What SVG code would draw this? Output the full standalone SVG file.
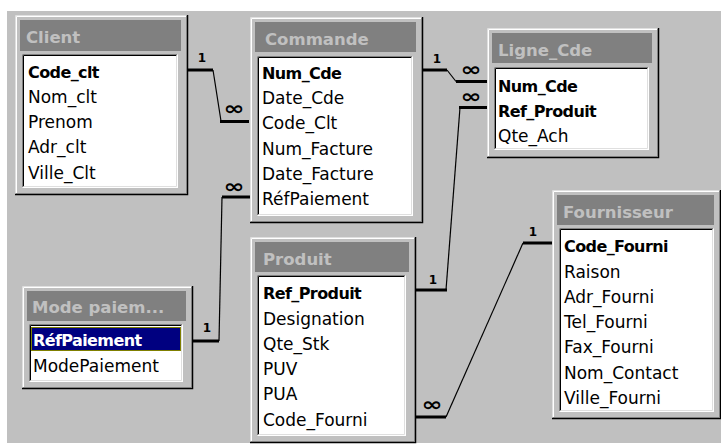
<svg xmlns="http://www.w3.org/2000/svg" width="721" height="445" viewBox="0 0 721 445">
<style>
.win{fill:#c0c0c0}
.lt1{fill:none;stroke:#dfdfdf;stroke-width:1}
.lt2{fill:none;stroke:#ffffff;stroke-width:1}
.dk1{fill:none;stroke:#000000;stroke-width:1.5}
.dk2{fill:none;stroke:#808080;stroke-width:1}
.bar{fill:#808080}
.ttl{font-family:"DejaVu Sans",Verdana,sans-serif;font-weight:bold;font-size:16.5px;fill:#c0c0c0}
.list{fill:#ffffff}
.sk1{fill:none;stroke:#808080;stroke-width:1}
.sk2{fill:none;stroke:#000000;stroke-width:1}
.sk3{fill:none;stroke:#ffffff;stroke-width:1}
.sk4{fill:none;stroke:#dfdfdf;stroke-width:1}
.fld{font-family:"DejaVu Sans",Verdana,sans-serif;font-size:17px;fill:#000}
.key{font-family:"DejaVu Sans",Verdana,sans-serif;font-size:16px;font-weight:bold;fill:#000;letter-spacing:-0.6px}
.thick{fill:none;stroke:#000;stroke-width:3}
.thin{fill:none;stroke:#000;stroke-width:1.2}
.one{font-family:"DejaVu Sans",sans-serif;font-size:12px;font-weight:bold;fill:#000;text-anchor:middle}
.inf{font-family:"DejaVu Sans",sans-serif;font-size:19px;font-weight:bold;fill:#000;text-anchor:middle}
</style>
<rect x="0" y="0" width="721" height="445" fill="#ffffff"/>
<rect x="7" y="11" width="714" height="432" fill="#c0c0c0"/>

<g id="connectors">
  <path class="thick" d="M187,70 H213"/>
  <path class="thin" d="M213,70 L221,121"/>
  <path class="thick" d="M220,121.5 H249"/>
  <text class="one" x="202" y="61.5">1</text>
  <text class="inf" x="234" y="115" textLength="21" lengthAdjust="spacingAndGlyphs">∞</text>

  <path class="thick" d="M423,70 H447"/>
  <path class="thin" d="M447,70 L456,81.5"/>
  <path class="thick" d="M456,81.5 H487"/>
  <text class="one" x="437" y="62.5">1</text>
  <text class="inf" x="471" y="76" textLength="21" lengthAdjust="spacingAndGlyphs">∞</text>

  <path class="thick" d="M459,107.5 H487"/>
  <path class="thin" d="M460,107.5 L446,290"/>
  <path class="thick" d="M416,290 H447"/>
  <text class="one" x="433" y="283.5">1</text>
  <text class="inf" x="471" y="103" textLength="21" lengthAdjust="spacingAndGlyphs">∞</text>

  <path class="thick" d="M193,341 H219"/>
  <path class="thin" d="M219,341 L222,197"/>
  <path class="thick" d="M222,197 H250"/>
  <text class="one" x="207" y="331.5">1</text>
  <text class="inf" x="234" y="192.5" textLength="21" lengthAdjust="spacingAndGlyphs">∞</text>

  <path class="thick" d="M416,417 H446"/>
  <path class="thin" d="M446,417 L523,243"/>
  <path class="thick" d="M523,243 H552"/>
  <text class="one" x="533" y="235.5">1</text>
  <text class="inf" x="432" y="411" textLength="21" lengthAdjust="spacingAndGlyphs">∞</text>
</g>

<g id="client">
  <rect class="win" x="15" y="15" width="173" height="180"/>
  <path class="lt1" d="M15.5,194 V15.5 H187"/>
  <path class="lt2" d="M16.5,193 V16.5 H186"/>
  <path class="dk1" d="M15,194.5 H187.5 V15"/>
  <path class="dk2" d="M16,193.5 H186.5 V16"/>
  <rect class="bar" x="20" y="20" width="161" height="31"/>
  <text class="ttl" x="26" y="43">Client</text>
  <rect class="list" x="22" y="54" width="156" height="134"/>
  <path class="sk1" d="M22.5,187.5 V54.5 H177.5"/>
  <path class="sk2" d="M23.5,186.5 V55.5 H176.5"/>
  <path class="sk3" d="M22.5,187.5 H177.5 V54.5"/>
  <path class="sk4" d="M23.5,186.5 H176.5 V55.5"/>
  <text class="key" x="28" y="77.5">Code_clt</text>
  <text class="fld" x="28" y="103">Nom_clt</text>
  <text class="fld" x="28" y="128">Prenom</text>
  <text class="fld" x="28" y="153">Adr_clt</text>
  <text class="fld" x="28" y="178.5">Ville_Clt</text>
</g>

<g id="commande">
  <rect class="win" x="250" y="17" width="173" height="206"/>
  <path class="lt1" d="M250.5,222 V17.5 H422"/>
  <path class="lt2" d="M251.5,221 V18.5 H421"/>
  <path class="dk1" d="M250,222.5 H422.5 V17"/>
  <path class="dk2" d="M251,221.5 H421.5 V18"/>
  <rect class="bar" x="255" y="22" width="161" height="30"/>
  <text class="ttl" x="265" y="45">Commande</text>
  <rect class="list" x="257" y="56" width="156" height="160"/>
  <path class="sk1" d="M257.5,215.5 V56.5 H412.5"/>
  <path class="sk2" d="M258.5,214.5 V57.5 H411.5"/>
  <path class="sk3" d="M257.5,215.5 H412.5 V56.5"/>
  <path class="sk4" d="M258.5,214.5 H411.5 V57.5"/>
  <text class="key" x="262" y="78.5">Num_Cde</text>
  <text class="fld" x="262" y="104">Date_Cde</text>
  <text class="fld" x="262" y="129">Code_Clt</text>
  <text class="fld" x="262" y="154.5">Num_Facture</text>
  <text class="fld" x="262" y="180">Date_Facture</text>
  <text class="fld" x="262" y="205">RéfPaiement</text>
</g>

<g id="ligne_cde">
  <rect class="win" x="487" y="28" width="172" height="130"/>
  <path class="lt1" d="M487.5,157 V28.5 H658"/>
  <path class="lt2" d="M488.5,156 V29.5 H657"/>
  <path class="dk1" d="M487,157.5 H658.5 V28"/>
  <path class="dk2" d="M488,156.5 H657.5 V29"/>
  <rect class="bar" x="492" y="33" width="160" height="30"/>
  <text class="ttl" x="498" y="56">Ligne_Cde</text>
  <rect class="list" x="494" y="67" width="155" height="83"/>
  <path class="sk1" d="M494.5,149.5 V67.5 H648.5"/>
  <path class="sk2" d="M495.5,148.5 V68.5 H647.5"/>
  <path class="sk3" d="M494.5,149.5 H648.5 V67.5"/>
  <path class="sk4" d="M495.5,148.5 H647.5 V68.5"/>
  <text class="key" x="498" y="91.5">Num_Cde</text>
  <text class="key" x="498" y="116.5">Ref_Produit</text>
  <text class="fld" x="498" y="141.5">Qte_Ach</text>
</g>

<g id="mode_paiement">
  <rect class="win" x="22" y="286" width="171" height="103"/>
  <path class="lt1" d="M22.5,388 V286.5 H192"/>
  <path class="lt2" d="M23.5,387 V287.5 H191"/>
  <path class="dk1" d="M22,388.5 H192.5 V286"/>
  <path class="dk2" d="M23,387.5 H191.5 V287"/>
  <rect class="bar" x="27" y="291" width="159" height="30"/>
  <text class="ttl" x="32" y="313">Mode paiem...</text>
  <rect class="list" x="29" y="324" width="154" height="58"/>
  <path class="sk1" d="M29.5,381.5 V324.5 H182.5"/>
  <path class="sk2" d="M30.5,380.5 V325.5 H181.5"/>
  <path class="sk3" d="M29.5,381.5 H182.5 V324.5"/>
  <path class="sk4" d="M30.5,380.5 H181.5 V325.5"/>
  <rect x="31" y="327" width="150" height="24" fill="#000080"/>
  <rect x="31.5" y="327.5" width="149" height="23" fill="none" stroke="#000000" stroke-width="1"/>
  <rect x="31.5" y="327.5" width="149" height="23" fill="none" stroke="#ffff00" stroke-width="1" stroke-dasharray="1 1"/>
  <text class="key" x="33" y="346" style="fill:#ffffff">RéfPaiement</text>
  <text class="fld" x="33" y="372">ModePaiement</text>
</g>

<g id="produit">
  <rect class="win" x="250" y="237" width="166" height="206"/>
  <path class="lt1" d="M250.5,442 V237.5 H415"/>
  <path class="lt2" d="M251.5,441 V238.5 H414"/>
  <path class="dk1" d="M250,442.5 H415.5 V237"/>
  <path class="dk2" d="M251,441.5 H414.5 V238"/>
  <rect class="bar" x="255" y="242" width="154" height="30"/>
  <text class="ttl" x="263" y="265">Produit</text>
  <rect class="list" x="257" y="275" width="149" height="161"/>
  <path class="sk1" d="M257.5,435.5 V275.5 H405.5"/>
  <path class="sk2" d="M258.5,434.5 V276.5 H404.5"/>
  <path class="sk3" d="M257.5,435.5 H405.5 V275.5"/>
  <path class="sk4" d="M258.5,434.5 H404.5 V276.5"/>
  <text class="key" x="263" y="299">Ref_Produit</text>
  <text class="fld" x="263" y="324.5">Designation</text>
  <text class="fld" x="263" y="349.5">Qte_Stk</text>
  <text class="fld" x="263" y="375">PUV</text>
  <text class="fld" x="263" y="400">PUA</text>
  <text class="fld" x="263" y="425.5">Code_Fourni</text>
</g>

<g id="fournisseur">
  <rect class="win" x="552" y="190" width="169" height="229"/>
  <path class="lt1" d="M552.5,418 V190.5 H720"/>
  <path class="lt2" d="M553.5,417 V191.5 H719"/>
  <path class="dk1" d="M552,418.5 H720.5 V190"/>
  <path class="dk2" d="M553,417.5 H719.5 V191"/>
  <rect class="bar" x="557" y="195" width="157" height="30"/>
  <text class="ttl" x="563" y="218">Fournisseur</text>
  <rect class="list" x="559" y="228" width="155" height="184"/>
  <path class="sk1" d="M559.5,411.5 V228.5 H713.5"/>
  <path class="sk2" d="M560.5,410.5 V229.5 H712.5"/>
  <path class="sk3" d="M559.5,411.5 H713.5 V228.5"/>
  <path class="sk4" d="M560.5,410.5 H712.5 V229.5"/>
  <text class="key" x="564" y="252">Code_Fourni</text>
  <text class="fld" x="564" y="277.5">Raison</text>
  <text class="fld" x="564" y="302.5">Adr_Fourni</text>
  <text class="fld" x="564" y="328">Tel_Fourni</text>
  <text class="fld" x="564" y="353">Fax_Fourni</text>
  <text class="fld" x="564" y="378.5">Nom_Contact</text>
  <text class="fld" x="564" y="404">Ville_Fourni</text>
</g>
</svg>
